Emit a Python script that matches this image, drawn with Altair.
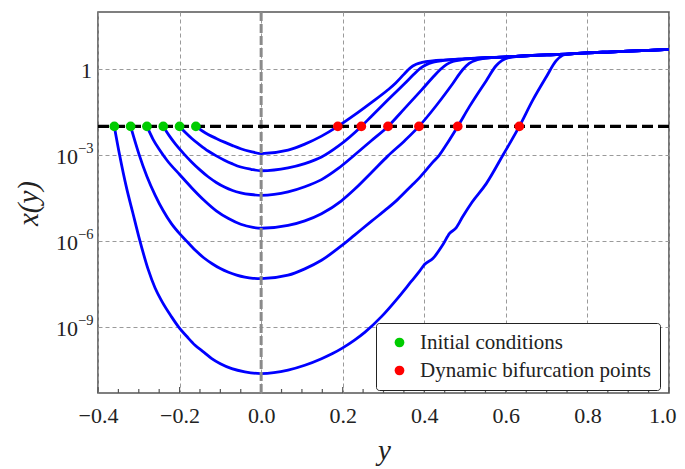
import altair as alt
import pandas as pd

# ---- data (horizontal: y, vertical: log10 x(y)) ----
A_y = [-0.16, -0.145, -0.13, -0.11, -0.09, -0.07, -0.05, -0.025, 0.0, 0.066, 0.107, 0.148, 0.188, 0.229, 0.27, 0.311, 0.33, 0.35, 0.365, 0.38, 0.395]
A_log = [-2.0, -2.15, -2.28, -2.42, -2.55, -2.67, -2.78, -2.88, -2.95, -2.83, -2.62, -2.34, -2.0, -1.6, -1.17, -0.72, -0.48, -0.18, 0.04, 0.17, 0.24]

B_y = [-0.2, -0.185, -0.17, -0.15, -0.13, -0.11, -0.09, -0.07, -0.05, -0.025, 0.0, 0.066, 0.107, 0.148, 0.189, 0.2456, 0.27, 0.311, 0.352, 0.375, 0.39, 0.405, 0.42, 0.44]
B_log = [-2.0, -2.22, -2.42, -2.65, -2.86, -3.03, -3.18, -3.31, -3.42, -3.5, -3.55, -3.45, -3.3, -3.07, -2.69, -2.0, -1.65, -1.07, -0.5, -0.17, 0.03, 0.16, 0.24, 0.29]

C_y = [-0.24, -0.225, -0.21, -0.19, -0.17, -0.15, -0.13, -0.11, -0.09, -0.07, -0.05, -0.025, 0.0, 0.066, 0.107, 0.148, 0.189, 0.229, 0.27, 0.311, 0.352, 0.393, 0.42, 0.44, 0.455, 0.47, 0.49]
C_log = [-2.0, -2.33, -2.62, -2.95, -3.25, -3.52, -3.76, -3.96, -4.12, -4.24, -4.32, -4.38, -4.41, -4.29, -4.11, -3.86, -3.47, -3.0, -2.5, -2.0, -1.37, -0.73, -0.3, 0.0, 0.17, 0.27, 0.33]

D_y = [-0.28, -0.265, -0.25, -0.23, -0.2, -0.17, -0.14, -0.11, -0.08, -0.05, -0.02, 0.0, 0.066, 0.107, 0.148, 0.197, 0.229, 0.27, 0.311, 0.352, 0.387, 0.43, 0.47, 0.494, 0.51, 0.53, 0.55]
D_log = [-2.0, -2.45, -2.8, -3.2, -3.68, -4.15, -4.58, -4.95, -5.22, -5.42, -5.53, -5.56, -5.46, -5.3, -5.05, -4.6, -4.2, -3.62, -3.03, -2.5, -2.0, -1.26, -0.5, -0.02, 0.2, 0.33, 0.39]

E_y = [-0.32, -0.3, -0.28, -0.26, -0.24, -0.22, -0.2, -0.18, -0.16, -0.14, -0.12, -0.1, -0.08, -0.06, -0.04, -0.02, 0.0, 0.066, 0.107, 0.148, 0.199, 0.229, 0.27, 0.311, 0.335, 0.368, 0.389, 0.405, 0.421, 0.437, 0.454, 0.482, 0.511, 0.552, 0.576, 0.59, 0.605]
E_log = [-2.0, -2.95, -3.75, -4.4, -4.95, -5.4, -5.75, -6.05, -6.35, -6.6, -6.8, -6.97, -7.1, -7.2, -7.27, -7.31, -7.32, -7.2, -6.98, -6.68, -6.15, -5.8, -5.32, -4.85, -4.55, -4.08, -3.78, -3.52, -3.25, -3.0, -2.64, -2.0, -1.3, -0.4, 0.12, 0.3, 0.4]

F_y = [-0.36, -0.347, -0.33, -0.315, -0.3, -0.277, -0.26, -0.244, -0.22, -0.203, -0.18, -0.162, -0.14, -0.121, -0.1, -0.072, -0.04, 0.0, 0.066, 0.107, 0.148, 0.175, 0.199, 0.229, 0.254, 0.295, 0.335, 0.368, 0.389, 0.401, 0.421, 0.445, 0.462, 0.478, 0.494, 0.517, 0.552, 0.593, 0.633, 0.666, 0.699, 0.723, 0.739]
F_log = [-2.0, -3.0, -4.15, -5.0, -5.85, -7.0, -7.65, -8.1, -8.65, -9.0, -9.38, -9.65, -9.9, -10.12, -10.3, -10.47, -10.58, -10.64, -10.52, -10.35, -10.12, -9.94, -9.75, -9.47, -9.2, -8.65, -8.0, -7.42, -7.05, -6.82, -6.62, -6.15, -5.74, -5.55, -5.16, -4.65, -4.0, -3.0, -2.0, -1.08, -0.27, 0.29, 0.49]

# common upper branch that all curves join
plateau_y = [0.42, 0.45, 0.5, 0.55, 0.6, 0.65, 0.7, 0.75, 0.8, 0.85, 0.9, 0.95, 1.0]
plateau_log = [0.29, 0.32, 0.36, 0.4, 0.43, 0.47, 0.5, 0.53, 0.57, 0.6, 0.63, 0.66, 0.69]

initial_y = [-0.36, -0.32, -0.28, -0.24, -0.20, -0.16]
bifurcation_y = [0.188, 0.2456, 0.311, 0.387, 0.482, 0.633]
threshold = [0.01]
zero_line = [0.0]

legend_labels = ["Initial conditions", "Dynamic bifurcation points"]
legend_colors = ["#00cc00", "#ff0000"]

x_tick_values = [-0.4, -0.2, 0.0, 0.2, 0.4, 0.6, 0.8, 1.0]
x_tick_labels = ["\u22120.4", "\u22120.2", "0.0", "0.2", "0.4", "0.6", "0.8", "1.0"]
x_minor_ticks = [-0.35, -0.3, -0.25, -0.15, -0.1, -0.05, 0.05, 0.1, 0.15, 0.25, 0.3, 0.35,
                 0.45, 0.5, 0.55, 0.65, 0.7, 0.75, 0.85, 0.9, 0.95]
y_tick_values = [1e-9, 1e-6, 1e-3, 1.0]
y_power_values = [1e-9, 1e-6, 1e-3]
y_power_base = ["10", "10", "10"]
y_power_exp = ["\u22129", "\u22126", "\u22123"]
y_unit_value = [1.0]
y_unit_label = ["1"]

# ---- build tables ----
curves = [("A", A_y, A_log), ("B", B_y, B_log), ("C", C_y, C_log),
          ("D", D_y, D_log), ("E", E_y, E_log), ("F", F_y, F_log)]
rows = []
for name, ys, logs in curves:
    last = ys[-1]
    xs = list(ys) + [p for p in plateau_y if p > last + 0.005]
    ls = list(logs) + [l for p, l in zip(plateau_y, plateau_log) if p > last + 0.005]
    for i, (a, b) in enumerate(zip(xs, ls)):
        rows.append({"curve": name, "order": i, "yv": a, "xv": 10 ** b})
curve_df = pd.DataFrame(rows)

pts = pd.DataFrame(
    [{"yv": v, "xv": threshold[0], "kind": legend_labels[0]} for v in initial_y]
    + [{"yv": v, "xv": threshold[0], "kind": legend_labels[1]} for v in bifurcation_y]
)
power_df = pd.DataFrame({"xv": y_power_values, "base": y_power_base, "exp": y_power_exp})
unit_df = pd.DataFrame({"xv": y_unit_value, "lab": y_unit_label})

W, H = 571, 381
FONT = "Liberation Serif"
TXT = "#222"
xscale = alt.Scale(domain=[-0.4, 1.0], nice=False, zero=False)
yscale = alt.Scale(type="log", domain=[10 ** -11.32, 100], nice=False)

x_label_expr = "[" + ",".join("'%s'" % s for s in x_tick_labels) + "][round((datum.value + 0.4) / 0.2)]"

x_axis = alt.Axis(
    values=x_tick_values, labelExpr=x_label_expr, title="y",
    grid=True, gridDash=[4, 3], gridColor="#9a9a9a", gridWidth=1,
    ticks=False, domain=False, labelFont=FONT, labelFontSize=22,
    labelColor=TXT, labelPadding=12, labelFlush=False,
    labelAlign={"condition": {"test": "datum.value > 0.99", "value": "right"}, "value": "center"},
    labelOffset={"condition": {"test": "datum.value > 0.99", "value": 7}, "value": 0},
    titleFont=FONT, titleFontSize=29, titleFontStyle="italic",
    titleFontWeight="normal", titleColor=TXT,
    titleX=286, titleY=66, titleBaseline="alphabetic", titleAlign="center")
y_axis = alt.Axis(
    values=y_tick_values, labels=False, title="x(y)",
    grid=True, gridDash=[4, 3], gridColor="#9a9a9a", gridWidth=1,
    ticks=False, domain=False,
    titleFont=FONT, titleFontSize=29, titleFontStyle="italic",
    titleFontWeight="normal", titleColor=TXT,
    titleX=-70, titleY=191, titleAngle=270, titleAlign="center",
    titleBaseline="middle")

X = lambda f: alt.X(f, scale=xscale, axis=x_axis)
Y = lambda f: alt.Y(f, scale=yscale, axis=y_axis)

lines = alt.Chart(curve_df).mark_line(
    color="#0000ff", strokeWidth=2.8, interpolate="monotone", clip=True
).encode(x=X("yv:Q"), y=Y("xv:Q"), detail="curve:N", order="order:Q")

vline = alt.Chart(pd.DataFrame({"yv": zero_line})).mark_rule(
    color="#8a8a8a", strokeWidth=3, strokeDash=[9, 3]
).encode(x=X("yv:Q"))

hline = alt.Chart(pd.DataFrame({"xv": threshold})).mark_rule(
    color="black", strokeWidth=3.2, strokeDash=[11, 5]
).encode(y=Y("xv:Q"))

points = alt.Chart(pts).mark_circle(size=95, opacity=1).encode(
    x=X("yv:Q"), y=Y("xv:Q"),
    color=alt.Color("kind:N", scale=alt.Scale(domain=legend_labels, range=legend_colors),
                    legend=alt.Legend(
                        title=None, orient="none", legendX=278, legendY=311,
                        padding=9, fillColor="white", strokeColor=TXT,
                        cornerRadius=3, labelFont=FONT, labelFontSize=21,
                        labelColor=TXT, labelLimit=400, symbolType="circle",
                        symbolSize=95, symbolStrokeWidth=0, symbolOffset=4,
                        labelOffset=10, rowPadding=6)),
)

minor = alt.Chart(pd.DataFrame({"yv": x_minor_ticks})).mark_rule(
    color="#555", strokeWidth=1.2
).encode(x=X("yv:Q"), y=alt.value(H), y2=alt.value(H - 4))

major = alt.Chart(pd.DataFrame({"yv": x_tick_values})).mark_rule(
    color="#555", strokeWidth=1.2
).encode(x=X("yv:Q"), y=alt.value(H), y2=alt.value(H - 6))

# y tick labels with real superscripts
base_txt = alt.Chart(power_df).mark_text(
    align="right", baseline="middle", font=FONT, fontSize=22, color=TXT, dy=2
).encode(x=alt.value(-20), y=Y("xv:Q"), text="base:N")
exp_txt = alt.Chart(power_df).mark_text(
    align="left", baseline="middle", font=FONT, fontSize=14.5, color=TXT, dy=-6
).encode(x=alt.value(-20), y=Y("xv:Q"), text="exp:N")
unit_txt = alt.Chart(unit_df).mark_text(
    align="right", baseline="middle", font=FONT, fontSize=22, color=TXT, dy=2
).encode(x=alt.value(-6), y=Y("xv:Q"), text="lab:N")

chart = alt.layer(minor, major, lines, vline, hline, points, base_txt, exp_txt, unit_txt).properties(
    width=W, height=H,
    autosize=alt.AutoSizeParams(type="none"),
    padding={"left": 90, "top": 4, "right": 8, "bottom": 75},
).configure_view(
    stroke="#555", strokeWidth=1.6
)

chart.save("out.html", embed_options={"renderer": "svg", "actions": False})
